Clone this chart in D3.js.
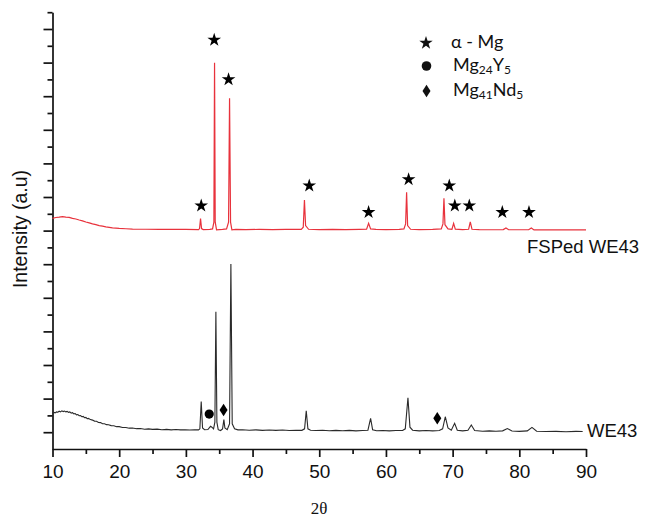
<!DOCTYPE html>
<html>
<head>
    <meta charset="utf-8">
    <title>XRD WE43</title>
    <script src="https://cdnjs.cloudflare.com/ajax/libs/d3/7.8.5/d3.min.js"></script>
    <style>
        body { margin: 0; background: white; }
        #chart { width: 651px; height: 523px; }
    </style>
</head>
<body>
    <div id="chart"></div>
    <script>
        // 2θ / intensity (a.u)
        const fspedSeries = [
            [10.0, 13.73], [10.5, 13.78], [11.0, 13.80], [11.5, 13.83], [12.0, 13.80], [12.5, 13.79],
            [13.0, 13.73], [13.5, 13.69], [14.0, 13.63], [14.5, 13.58], [15.0, 13.51], [15.5, 13.46],
            [16.0, 13.40], [16.5, 13.36], [17.0, 13.30], [17.5, 13.27], [18.0, 13.22], [18.5, 13.19],
            [19.0, 13.16], [20.0, 13.13], [21.0, 13.11], [22.0, 13.09], [24.0, 13.08], [26.0, 13.07],
            [28.0, 13.07], [30.0, 13.07], [31.9, 13.06], [32.05, 13.12], [32.2, 13.71], [32.35, 13.12],
            [32.6, 13.06], [33.6, 13.07], [34.0, 13.10], [34.2, 13.50], [34.3, 22.99], [34.4, 13.50],
            [34.6, 13.05], [35.5, 13.07], [36.1, 13.10], [36.4, 13.50], [36.55, 20.88], [36.7, 13.50],
            [36.9, 13.05], [37.5, 13.07], [39.0, 13.06], [41.0, 13.07], [43.0, 13.06], [45.0, 13.07],
            [47.3, 13.07], [47.6, 13.20], [47.78, 14.82], [47.95, 13.30], [48.4, 13.08], [50.0, 13.06],
            [52.0, 13.07], [54.0, 13.06], [56.0, 13.07], [57.1, 13.08], [57.4, 13.43], [57.7, 13.10],
            [58.5, 13.07], [60.0, 13.06], [62.0, 13.07], [62.7, 13.10], [62.95, 13.40], [63.1, 15.28],
            [63.25, 13.30], [63.7, 13.08], [65.0, 13.06], [67.0, 13.07], [68.3, 13.10], [68.55, 13.40],
            [68.7, 14.92], [68.85, 13.35], [69.3, 13.10], [69.9, 13.08], [70.15, 13.43], [70.4, 13.09],
            [71.5, 13.06], [72.4, 13.08], [72.65, 13.52], [72.9, 13.08], [74.0, 13.06], [76.0, 13.05],
            [77.6, 13.06], [78.0, 13.16], [78.4, 13.05], [80.0, 13.05], [81.4, 13.05], [81.8, 13.16],
            [82.2, 13.04], [84.0, 13.04], [86.0, 13.04], [88.0, 13.04], [90.0, 13.04]
        ];

        const we43Series = [
            [10.0, 2.12], [10.2, 2.18], [10.4, 2.15], [10.6, 2.21], [10.8, 2.19], [11.0, 2.25],
            [11.2, 2.21], [11.4, 2.27], [11.6, 2.23], [11.8, 2.26], [12.0, 2.21], [12.2, 2.24],
            [12.4, 2.18], [12.6, 2.21], [12.8, 2.14], [13.0, 2.16], [13.2, 2.09], [13.4, 2.11],
            [13.6, 2.03], [13.8, 2.05], [14.0, 1.98], [14.2, 1.99], [14.4, 1.92], [14.6, 1.94],
            [14.8, 1.86], [15.0, 1.88], [15.2, 1.80], [15.4, 1.82], [15.7, 1.75], [16.0, 1.72],
            [16.3, 1.66], [16.6, 1.65], [16.9, 1.58], [17.2, 1.57], [17.5, 1.50], [17.8, 1.50],
            [18.1, 1.45], [18.4, 1.44], [18.8, 1.39], [19.2, 1.38], [19.6, 1.33], [20.0, 1.33],
            [20.5, 1.28], [21.0, 1.28], [21.5, 1.24], [22.0, 1.25], [22.6, 1.21], [23.2, 1.22],
            [23.8, 1.18], [24.4, 1.20], [25.0, 1.17], [25.7, 1.18], [26.4, 1.15], [27.1, 1.17],
            [27.8, 1.14], [28.5, 1.16], [29.2, 1.14], [29.9, 1.15], [30.6, 1.13], [31.3, 1.15],
            [31.9, 1.14], [32.1, 1.20], [32.3, 2.82], [32.5, 1.25], [32.8, 1.15], [33.3, 1.16],
            [33.7, 1.35], [33.9, 1.30], [34.15, 1.20], [34.35, 1.60], [34.5, 8.17], [34.65, 1.60],
            [34.85, 1.15], [35.2, 1.10], [35.5, 1.20], [35.7, 1.75], [35.85, 1.25], [36.2, 1.15],
            [36.55, 1.50], [36.75, 11.01], [36.95, 1.50], [37.3, 1.20], [37.8, 1.14], [38.5, 1.15],
            [39.5, 1.12], [40.5, 1.14], [41.5, 1.11], [42.5, 1.13], [43.5, 1.11], [44.5, 1.13],
            [45.5, 1.10], [46.5, 1.12], [47.4, 1.11], [47.8, 1.20], [48.05, 2.28], [48.3, 1.20],
            [48.7, 1.12], [49.5, 1.10], [50.5, 1.12], [51.5, 1.09], [52.5, 1.11], [53.5, 1.09],
            [54.5, 1.11], [55.5, 1.08], [56.5, 1.10], [57.3, 1.12], [57.7, 1.83], [58.0, 1.15],
            [58.6, 1.09], [59.5, 1.10], [60.5, 1.08], [61.5, 1.10], [62.5, 1.10], [62.9, 1.20],
            [63.3, 3.05], [63.6, 1.30], [64.0, 1.12], [65.0, 1.08], [66.0, 1.10], [67.0, 1.08],
            [68.0, 1.10], [68.5, 1.20], [68.9, 1.92], [69.3, 1.25], [69.8, 1.12], [70.3, 1.53],
            [70.7, 1.12], [71.5, 1.08], [72.3, 1.12], [72.8, 1.43], [73.3, 1.10], [74.5, 1.06],
            [75.5, 1.08], [76.5, 1.06], [77.5, 1.08], [78.2, 1.22], [78.9, 1.07], [80.0, 1.05],
            [81.2, 1.08], [81.9, 1.29], [82.6, 1.06], [84.0, 1.04], [85.5, 1.05], [87.0, 1.03],
            [88.5, 1.05], [89.5, 1.04]
        ];

        // phase markers [2θ, intensity]
        const alphaMgMarks = [
            [32.3, 14.48], [34.25, 24.35], [36.4, 22.0], [48.5, 15.67], [57.4, 14.09], [63.4, 16.05],
            [69.5, 15.67], [70.33, 14.48], [72.5, 14.48], [77.45, 14.09], [81.45, 14.09]
        ];
        const mg24y5Marks = [[33.5, 2.08]];
        const mg41nd5Marks = [[35.65, 2.32], [67.7, 1.83]];

        const xTicks = d3.range(10, 91, 10);
        const xMinorTicks = d3.range(15, 90, 10);
        const yTicks = d3.range(0, 27, 1);

        const seriesNames = ["FSPed WE43", "WE43"];

        const width = 651, height = 523;
        const x = d3.scaleLinear().domain([10, 90]).range([52.5, 586]);
        const y = d3.scaleLinear().domain([0, 26]).range([449, 12.2]);

        const svg = d3.select("#chart").append("svg")
            .attr("width", width)
            .attr("height", height)
            .attr("font-family", "'Liberation Sans', Arial, sans-serif");

        svg.append("rect").attr("width", width).attr("height", height).attr("fill", "white");

        // axes
        const xAxis = svg.append("g")
            .attr("transform", `translate(0,${y(0)})`)
            .call(d3.axisBottom(x).tickValues(xTicks).tickSize(8).tickSizeOuter(0).tickPadding(8));
        svg.append("g")
            .attr("transform", `translate(0,${y(0)})`)
            .call(d3.axisBottom(x).tickValues(xMinorTicks).tickSize(5).tickFormat(""))
            .select(".domain").remove();
        xAxis.selectAll("text")
            .attr("font-size", 19)
            .attr("fill", "#111")
            .attr("font-family", "'Liberation Sans', Arial, sans-serif");

        const yAxis = svg.append("g")
            .attr("transform", `translate(${x(10)},0)`)
            .call(d3.axisLeft(y).tickValues(yTicks).tickSizeOuter(0).tickFormat(""));
        yAxis.selectAll(".tick line").attr("x2", d => (d % 2 === 1 ? -9 : -5));
        yAxis.select(".tick line").attr("x2", 0);

        svg.selectAll(".domain, .tick line")
            .attr("stroke", "#111")
            .attr("stroke-width", 1.7);

        // curves
        const line = d3.line().x(d => x(d[0])).y(d => y(d[1]));

        svg.append("path")
            .datum(fspedSeries)
            .attr("fill", "none")
            .attr("stroke", "#e8323c")
            .attr("stroke-width", 1.2)
            .attr("d", line);

        svg.append("path")
            .datum(we43Series)
            .attr("fill", "none")
            .attr("stroke", "#2a2a2a")
            .attr("stroke-width", 1.1)
            .attr("d", line);

        // markers
        const star = d3.symbol().type(d3.symbolStar).size(58);
        svg.append("g").selectAll("path")
            .data(alphaMgMarks)
            .join("path")
            .attr("d", star)
            .attr("transform", d => `translate(${x(d[0])},${y(d[1])})`)
            .attr("fill", "black");

        svg.append("g").selectAll("circle")
            .data(mg24y5Marks)
            .join("circle")
            .attr("cx", d => x(d[0]))
            .attr("cy", d => y(d[1]))
            .attr("r", 4.6)
            .attr("fill", "black");

        const diamond = "M0,-6.2L4,0L0,6.2L-4,0Z";
        svg.append("g").selectAll("path")
            .data(mg41nd5Marks)
            .join("path")
            .attr("d", diamond)
            .attr("transform", d => `translate(${x(d[0])},${y(d[1])})`)
            .attr("fill", "black");

        // series labels
        svg.append("text")
            .attr("x", 527).attr("y", 253)
            .attr("font-size", 18.5).attr("fill", "#111")
            .text(seriesNames[0]);
        svg.append("text")
            .attr("x", 587).attr("y", 437)
            .attr("font-size", 18.5).attr("fill", "#111")
            .text(seriesNames[1]);

        // axis titles
        svg.append("text")
            .attr("transform", "translate(20,229) rotate(-90)")
            .attr("text-anchor", "middle")
            .attr("dy", "0.35em")
            .attr("font-size", 19.5).attr("fill", "#111")
            .text("Intensity (a.u)");
        svg.append("text")
            .attr("x", 319).attr("y", 514)
            .attr("text-anchor", "middle")
            .attr("font-family", "'Liberation Serif', 'Times New Roman', serif")
            .attr("font-size", 17).attr("fill", "#111")
            .text("2θ");

        // legend
        const legend = svg.append("g").attr("transform", "translate(426,0)")
            .attr("font-family", "Lato, 'Open Sans', sans-serif")
            .attr("fill", "#111");
        legend.append("path")
            .attr("d", d3.symbol().type(d3.symbolStar).size(56))
            .attr("transform", "translate(0,43)");
        legend.append("circle").attr("cx", 0.5).attr("cy", 66).attr("r", 4.8);
        legend.append("path").attr("d", diamond).attr("transform", "translate(0.5,91)");

        legend.append("text").attr("x", 25).attr("y", 48).attr("font-size", 18)
            .text("α - Mg");

        const t2 = legend.append("text").attr("x", 27).attr("y", 71).attr("font-size", 18);
        t2.append("tspan").text("Mg");
        t2.append("tspan").attr("font-size", 12).attr("dy", 3).text("24");
        t2.append("tspan").attr("dy", -3).text("Y");
        t2.append("tspan").attr("font-size", 12).attr("dy", 3).text("5");

        const t3 = legend.append("text").attr("x", 27).attr("y", 96).attr("font-size", 18);
        t3.append("tspan").text("Mg");
        t3.append("tspan").attr("font-size", 12).attr("dy", 3).text("41");
        t3.append("tspan").attr("dy", -3).text("Nd");
        t3.append("tspan").attr("font-size", 12).attr("dy", 3).text("5");
    </script>
</body>
</html>
